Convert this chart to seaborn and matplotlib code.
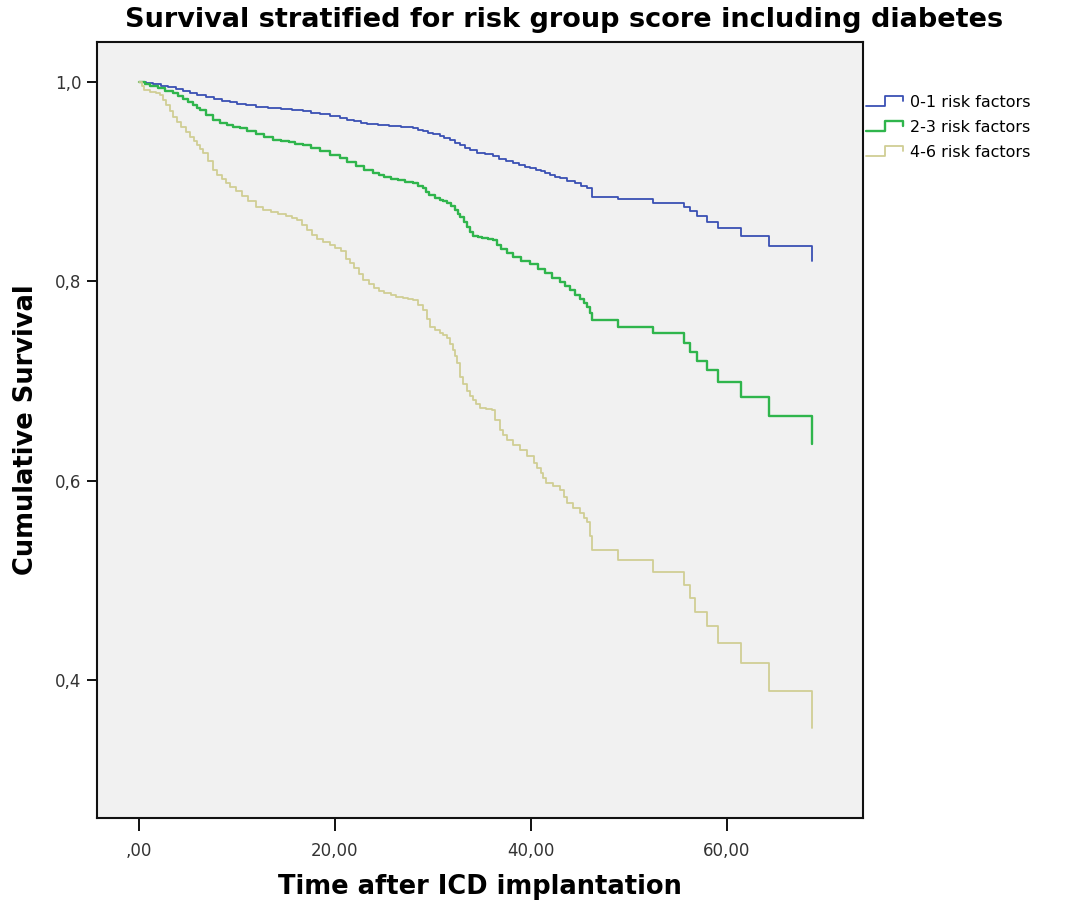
import numpy as np
import pandas as pd
import matplotlib
matplotlib.use('Agg')
import matplotlib.pyplot as plt
from matplotlib.lines import Line2D
from matplotlib.legend_handler import HandlerBase
import seaborn as sns

# Kaplan-Meier step points (time in months, cumulative survival)
t_low = [0, 0.7, 1.5, 2.3, 3.0, 3.8, 4.5, 5.2, 6.0, 6.9, 7.7, 8.5, 9.3, 10.0, 11.0,
         12.0, 13.2, 14.5, 15.6, 16.8, 17.6, 18.5, 19.5, 20.5, 21.3, 22.0, 22.7, 23.3,
         24.4, 25.5, 26.8, 28.0, 28.5, 29.0, 29.5, 30.0, 30.7, 31.2, 31.8, 32.3, 32.8,
         33.3, 33.8, 34.5, 35.3, 36.2, 36.8, 37.5, 38.2, 38.8, 39.4, 39.9, 40.5, 41.0,
         41.5, 42.0, 42.5, 43.0, 43.7, 44.5, 45.1, 45.7, 46.3, 48.9, 52.5, 55.6, 56.3,
         57.0, 58.0, 59.1, 61.5, 64.3, 68.7, 68.7]
s_low = [1.0, 0.999, 0.998, 0.996, 0.995, 0.993, 0.991, 0.989, 0.987, 0.985, 0.983,
         0.981, 0.980, 0.978, 0.977, 0.975, 0.974, 0.973, 0.972, 0.971, 0.969, 0.968,
         0.966, 0.964, 0.962, 0.961, 0.959, 0.958, 0.957, 0.956, 0.955, 0.954, 0.952,
         0.951, 0.949, 0.948, 0.946, 0.944, 0.942, 0.939, 0.937, 0.934, 0.932, 0.929,
         0.928, 0.926, 0.923, 0.921, 0.919, 0.917, 0.915, 0.914, 0.912, 0.911, 0.909,
         0.907, 0.905, 0.904, 0.901, 0.899, 0.896, 0.894, 0.885, 0.883, 0.879, 0.875,
         0.871, 0.866, 0.860, 0.854, 0.845, 0.835, 0.835, 0.820]

t_mid = [0, 0.6, 1.2, 2.0, 2.7, 3.5, 4.0, 4.5, 5.0, 5.5, 6.0, 6.3, 6.9, 7.6, 8.3, 9.0,
         9.6, 10.3, 11.1, 12.0, 12.8, 13.7, 14.5, 15.3, 16.0, 16.8, 17.6, 18.5, 19.5,
         20.5, 21.3, 22.2, 23.0, 23.9, 24.5, 25.0, 25.7, 26.5, 27.2, 28.0, 28.5, 29.0,
         29.3, 29.6, 30.2, 30.7, 31.1, 31.5, 31.9, 32.3, 32.6, 32.8, 33.2, 33.5, 33.8,
         34.1, 34.6, 35.0, 35.6, 36.2, 36.6, 37.0, 37.6, 38.2, 39.0, 39.9, 40.7, 41.5,
         42.2, 43.0, 43.5, 44.0, 44.5, 45.0, 45.4, 45.7, 46.0, 46.3, 48.9, 52.5, 55.6,
         56.3, 57.0, 58.0, 59.1, 61.5, 64.3, 68.7, 68.7]
s_mid = [1.0, 0.998, 0.996, 0.994, 0.991, 0.989, 0.986, 0.983, 0.980, 0.977, 0.974,
         0.972, 0.967, 0.962, 0.959, 0.957, 0.955, 0.954, 0.951, 0.948, 0.945, 0.942,
         0.941, 0.940, 0.938, 0.937, 0.934, 0.931, 0.927, 0.924, 0.920, 0.916, 0.912,
         0.909, 0.907, 0.905, 0.903, 0.902, 0.900, 0.899, 0.896, 0.894, 0.890, 0.887,
         0.884, 0.882, 0.881, 0.879, 0.876, 0.872, 0.868, 0.865, 0.860, 0.855, 0.850,
         0.846, 0.844, 0.843, 0.842, 0.841, 0.836, 0.832, 0.828, 0.824, 0.820, 0.817,
         0.812, 0.808, 0.803, 0.799, 0.795, 0.791, 0.786, 0.782, 0.778, 0.774, 0.768,
         0.761, 0.754, 0.748, 0.738, 0.729, 0.720, 0.711, 0.699, 0.684, 0.665, 0.665,
         0.637]

t_high = [0, 0.3, 0.5, 1.2, 1.8, 2.2, 2.5, 2.8, 3.2, 3.5, 3.9, 4.3, 4.8, 5.2, 5.6, 6.0,
          6.3, 6.6, 7.1, 7.6, 8.0, 8.5, 8.9, 9.3, 9.9, 10.5, 11.2, 12.0, 12.7, 13.5,
          14.2, 15.0, 15.6, 16.2, 16.7, 17.2, 17.7, 18.2, 18.8, 19.5, 20.0, 20.6, 21.2,
          21.6, 22.0, 22.5, 22.9, 23.5, 24.0, 24.5, 25.0, 25.7, 26.3, 27.0, 27.5, 28.0,
          28.5, 29.0, 29.4, 29.7, 30.2, 30.7, 31.1, 31.5, 31.8, 32.1, 32.3, 32.5, 32.8,
          33.1, 33.5, 33.8, 34.1, 34.4, 34.8, 35.4, 36.0, 36.4, 36.9, 37.2, 37.6, 38.2,
          38.9, 39.6, 40.3, 40.6, 41.0, 41.3, 41.6, 42.3, 43.0, 43.4, 43.7, 44.3, 45.0,
          45.4, 45.7, 46.0, 46.3, 48.9, 52.5, 55.6, 56.2, 56.8, 58.0, 59.1, 61.5, 64.3,
          68.7, 68.7]
s_high = [1.0, 0.996, 0.992, 0.990, 0.989, 0.987, 0.982, 0.977, 0.971, 0.965, 0.960,
          0.955, 0.950, 0.945, 0.941, 0.937, 0.933, 0.929, 0.921, 0.912, 0.907, 0.903,
          0.899, 0.895, 0.891, 0.886, 0.881, 0.875, 0.872, 0.870, 0.868, 0.866, 0.864,
          0.862, 0.857, 0.852, 0.847, 0.842, 0.839, 0.836, 0.833, 0.830, 0.822, 0.818,
          0.813, 0.807, 0.801, 0.797, 0.793, 0.790, 0.788, 0.786, 0.784, 0.783, 0.782,
          0.781, 0.776, 0.771, 0.762, 0.754, 0.751, 0.748, 0.746, 0.743, 0.737, 0.731,
          0.725, 0.718, 0.704, 0.697, 0.690, 0.685, 0.681, 0.677, 0.673, 0.672, 0.671,
          0.661, 0.651, 0.646, 0.641, 0.636, 0.631, 0.625, 0.618, 0.613, 0.608, 0.603,
          0.598, 0.595, 0.591, 0.584, 0.578, 0.573, 0.568, 0.563, 0.559, 0.545, 0.531,
          0.521, 0.509, 0.496, 0.483, 0.469, 0.454, 0.437, 0.417, 0.389, 0.389, 0.352]

groups = ['0-1 risk factors', '2-3 risk factors', '4-6 risk factors']
colors = ['#3A50B4', '#2FB54C', '#D0CE94']
widths = [1.3, 1.7, 1.3]

x_ticks = [0, 20, 40, 60]
x_ticklabels = [',00', '20,00', '40,00', '60,00']
y_ticks = [0.4, 0.6, 0.8, 1.0]
y_ticklabels = ['0,4', '0,6', '0,8', '1,0']

sns.set_theme(style='white', rc={'axes.facecolor': '#F1F1F1', 'text.color': 'black'})
plt.rcParams['font.family'] = ['DejaVu Sans']

df = pd.concat([
    pd.DataFrame({'time': t, 'surv': s, 'group': g})
    for t, s, g in zip([t_low, t_mid, t_high], [s_low, s_mid, s_high], groups)
], ignore_index=True)

fig = plt.figure(figsize=(10.70, 9.07), dpi=100)
ax = fig.add_axes([97 / 1070, 1 - 818 / 907, (863 - 97) / 1070, (818 - 42) / 907])

for g, c, w in zip(groups, colors, widths):
    sub = df[df['group'] == g]
    sns.lineplot(data=sub, x='time', y='surv', estimator=None, sort=False,
                 drawstyle='steps-post', color=c, linewidth=w, ax=ax)

ax.set_xlim(-4.25, 73.9)
ax.set_ylim(0.262, 1.040)
ax.set_xticks(x_ticks)
ax.set_xticklabels(x_ticklabels)
ax.set_yticks(y_ticks)
ax.set_yticklabels(y_ticklabels)
ax.tick_params(axis='both', direction='out', length=7, width=1.4, color='#111111',
               labelsize=12, labelcolor='#333333', pad=4, bottom=True, left=True)
ax.tick_params(axis='x', pad=8, length=9)
for sp in ax.spines.values():
    sp.set_color('#111111')
    sp.set_linewidth(1.5)

ax.set_xlabel('Time after ICD implantation', fontsize=18.5, fontweight='bold',
              labelpad=10, color='black')
ax.set_ylabel('Cumulative Survival', fontsize=18.5, fontweight='bold',
              labelpad=12, color='black')

fig.text(0.527, 1 - 20 / 907, 'Survival stratified for risk group score including diabetes',
         ha='center', va='center', fontsize=19.5, fontweight='bold', color='black')


class StepHandler(HandlerBase):
    def create_artists(self, legend, orig_handle, xdescent, ydescent, width, height,
                       fontsize, trans):
        x0, y0 = -xdescent, -ydescent
        xs = [x0, x0 + 0.45 * width, x0 + 0.45 * width, x0 + 0.9 * width, x0 + 0.9 * width]
        ys = [y0 + 0.1 * height, y0 + 0.1 * height, y0 + 0.95 * height,
              y0 + 0.95 * height, y0 + 0.5 * height]
        line = Line2D(xs, ys, color=orig_handle.get_color(),
                      linewidth=orig_handle.get_linewidth())
        line.set_transform(trans)
        return [line]


handles = [Line2D([], [], color=c, linewidth=w) for c, w in zip(colors, widths)]
fig.legend(handles, groups, loc='upper left', bbox_to_anchor=(866 / 1070, 1 - 95 / 907),
           frameon=False, fontsize=11.5, handlelength=2.6, handletextpad=0.15,
           labelspacing=0.62, borderpad=0, borderaxespad=0,
           handler_map={Line2D: StepHandler()})

fig.savefig('out.png', dpi=100)
